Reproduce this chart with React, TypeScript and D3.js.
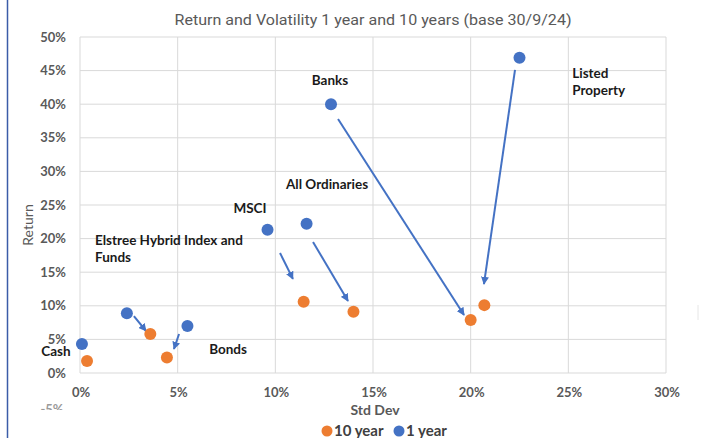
import React from "react";
import * as d3 from "d3";

const categories = ["Cash", "Elstree Hybrid Index and Funds", "Bonds", "MSCI", "All Ordinaries", "Banks", "Listed Property"];
const stdDev1y = [0.001, 0.024, 0.055, 0.096, 0.116, 0.1285, 0.225];
const return1y = [0.043, 0.089, 0.07, 0.213, 0.222, 0.4, 0.469];
const stdDev10y = [0.0036, 0.036, 0.0445, 0.1145, 0.14, 0.2, 0.207];
const return10y = [0.018, 0.058, 0.023, 0.106, 0.091, 0.079, 0.101];
const seriesNames = ["10 year", "1 year"];
const xTicks = [0, 0.05, 0.1, 0.15, 0.2, 0.25, 0.3];
const yTicks = [0, 0.05, 0.1, 0.15, 0.2, 0.25, 0.3, 0.35, 0.4, 0.45, 0.5];

// annotation labels in data units
const labelLines = [
  ["Cash"],
  ["Elstree Hybrid Index and", "Funds"],
  ["Bonds"],
  ["MSCI"],
  ["All Ordinaries"],
  ["Banks"],
  ["Listed", "Property"],
];
const labelX = [-0.0123, 0.0077, 0.0758, 0.087, 0.1265, 0.128, 0.252];
const labelY = [0.0327, 0.198, 0.0357, 0.2455, 0.281, 0.436, 0.446];
const labelAnchor = ["middle", "start", "middle", "middle", "middle", "middle", "start"];

// arrows in data units
const arrowX1 = [0.0276, 0.0507, 0.1024, 0.1193, 0.1321, 0.2227];
const arrowY1 = [0.0848, 0.058, 0.1786, 0.195, 0.378, 0.451];
const arrowX2 = [0.0338, 0.0481, 0.109, 0.1372, 0.1966, 0.2068];
const arrowY2 = [0.0625, 0.0357, 0.14, 0.1071, 0.0863, 0.1324];

const BLUE = "#4472C4";
const ORANGE = "#ED7D31";
const GRID = "#d9d9d9";
const TXT = "#595959";
const FONT = "Lato, 'Open Sans', sans-serif";

export default function App() {
  const x = d3.scaleLinear().domain([0, 0.3]).range([80, 666]);
  const y = d3.scaleLinear().domain([0, 0.5]).range([373, 37]);
  const pct = d3.format(".0%");
  const lineH = 17;

  return (
    <svg
      width={707}
      height={438}
      style={{ position: "absolute", left: 0, top: 0, background: "#fff" }}
      fontFamily={FONT}
    >
      <defs>
        <marker id="ah" viewBox="0 0 10 10" refX="9" refY="5" markerWidth="4" markerHeight="4" orient="auto">
          <path d="M0,0 L10,5 L0,10 z" fill={BLUE} />
        </marker>
        <clipPath id="negclip">
          <rect x={30} y={400} width={40} height={10} />
        </clipPath>
      </defs>
      <rect x={0} y={0} width={707} height={438} fill="#fff" />
      {/* left frame line */}
      <line x1={7.5} x2={7.5} y1={0} y2={438} stroke="#3b5ca8" strokeWidth={1.5} />
      <line x1={698} x2={698} y1={305} y2={320} stroke="#e6e6e6" strokeWidth={1} />

      {/* title */}
      <text x={373} y={25} textAnchor="middle" fontSize={15.5} fill={TXT} fontFamily="Roboto, sans-serif" textLength={397} lengthAdjust="spacingAndGlyphs">
        Return and Volatility 1 year and 10 years (base 30/9/24)
      </text>

      {/* grid */}
      {yTicks.map((t) => (
        <line key={"gy" + t} x1={x(0)} x2={x(0.3)} y1={y(t)} y2={y(t)} stroke={GRID} strokeWidth={1} />
      ))}
      {xTicks.map((t) => (
        <line key={"gx" + t} x1={x(t)} x2={x(t)} y1={y(0)} y2={y(0.5)} stroke={GRID} strokeWidth={1} />
      ))}

      {/* y tick labels */}
      {yTicks.map((t) => (
        <text key={"ty" + t} x={66} y={y(t)} dy="0.35em" textAnchor="end" fontSize={13} fontWeight={700} fill={TXT}>
          {pct(t)}
        </text>
      ))}
      <text x={52} y={y(-0.05) + 3} dy="0.35em" textAnchor="middle" fontSize={13} fontWeight={700} fill="#9a9a9a" clipPath="url(#negclip)">
        -5%
      </text>
      {/* x tick labels */}
      {xTicks.map((t) => (
        <text key={"tx" + t} x={x(t) + 1} y={392} dy="0.35em" textAnchor="middle" fontSize={13} fontWeight={700} fill={TXT}>
          {pct(t)}
        </text>
      ))}

      {/* axis titles */}
      <text x={375} y={410} dy="0.35em" textAnchor="middle" fontSize={14} fontWeight={700} fill={TXT}>
        Std Dev
      </text>
      <text transform={`translate(28,${225}) rotate(-90)`} textAnchor="middle" dy="0.35em" fontSize={14} fill={TXT}>
        Return
      </text>

      {/* arrows */}
      {arrowX1.map((_, i) => (
        <line
          key={"ar" + i}
          x1={x(arrowX1[i])}
          y1={y(arrowY1[i])}
          x2={x(arrowX2[i])}
          y2={y(arrowY2[i])}
          stroke={BLUE}
          strokeWidth={2}
          markerEnd="url(#ah)"
        />
      ))}

      {/* points */}
      {categories.map((c, i) => (
        <circle key={"p10" + c} cx={x(stdDev10y[i])} cy={y(return10y[i])} r={6} fill={ORANGE} />
      ))}
      {categories.map((c, i) => (
        <circle key={"p1" + c} cx={x(stdDev1y[i])} cy={y(return1y[i])} r={6} fill={BLUE} />
      ))}

      {/* labels */}
      {labelLines.map((lines, i) => (
        <text
          key={"lb" + i}
          x={x(labelX[i])}
          y={y(labelY[i])}
          textAnchor={labelAnchor[i] as any}
          fontSize={13.5}
          fontWeight={700}
          fill="#1a1a1a"
        >
          {lines.map((l, j) => (
            <tspan key={j} x={x(labelX[i])} y={y(labelY[i]) + j * lineH} dy="0.35em">
              {l}
            </tspan>
          ))}
        </text>
      ))}

      {/* legend */}
      <circle cx={327} cy={431} r={5.5} fill={ORANGE} />
      <text x={334} y={431} dy="0.35em" fontSize={15} fontWeight={700} fill="#404040">
        {seriesNames[0]}
      </text>
      <circle cx={399} cy={431} r={5.5} fill={BLUE} />
      <text x={406} y={431} dy="0.35em" fontSize={15} fontWeight={700} fill="#404040">
        {seriesNames[1]}
      </text>
    </svg>
  );
}
